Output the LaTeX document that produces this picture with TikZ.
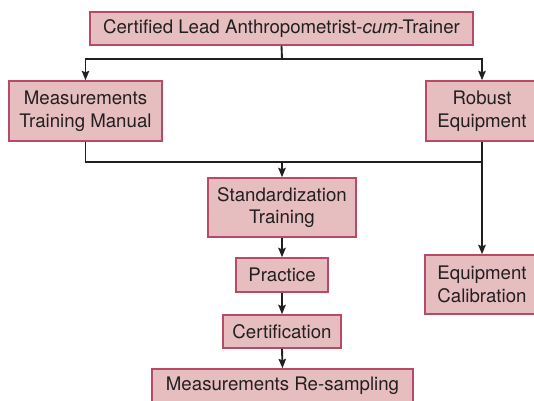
\documentclass[tikz,border=0pt]{standalone}
\usepackage{fontspec}
\setmainfont{TeX Gyre Heros}
\usetikzlibrary{arrows.meta}
\definecolor{boxfill}{HTML}{E6BEBF}
\definecolor{boxline}{HTML}{B84A68}
\definecolor{ink}{HTML}{231F20}
\tikzset{
  box/.style={draw=boxline, fill=boxfill, line width=1.1pt, inner sep=0pt,
    align=center, text=ink, font=\fontsize{14}{17}\selectfont},
  link/.style={draw=ink, line width=1.4pt},
  arrow/.style={link, -{Stealth[length=7pt,width=5.5pt,inset=1pt]}}
}
\begin{document}
\begin{tikzpicture}[x=0.75pt,y=-0.75pt]
\useasboundingbox (0,0) rectangle (534,400);
\clip (0,0) rectangle (534,400);
\node[box, minimum width=383*0.75pt, minimum height=33*0.75pt] (top) at (281.5,28.5) {Certified Lead Anthropometrist-\textit{cum}-Trainer};
\node[box, minimum width=153*0.75pt, minimum height=60*0.75pt] (mtm) at (85.5,111) {Measurements\\Training Manual};
\node[box, minimum width=112*0.75pt, minimum height=60*0.75pt] (re) at (482,111) {Robust\\Equipment};
\node[box, minimum width=148*0.75pt, minimum height=59*0.75pt] (std) at (282,207.5) {Standardization\\Training};
\node[box, minimum width=92*0.75pt, minimum height=34*0.75pt] (prac) at (282,275) {Practice};
\node[box, minimum width=118*0.75pt, minimum height=33*0.75pt] (cert) at (282,331.5) {Certification};
\node[box, minimum width=261*0.75pt, minimum height=34*0.75pt] (mrs) at (282.5,386) {Measurements Re-sampling};
\node[box, minimum width=114*0.75pt, minimum height=59*0.75pt] (ec) at (482,284.5) {Equipment\\Calibration};
\coordinate (j1) at (282,59);
\coordinate (j2) at (282,162);
\coordinate (jl) at (85.5,162);
\coordinate (jr) at (482,162);
\draw[link] (top.south) -- (j1);
\draw[arrow] (j1) -| (mtm.north);
\draw[arrow] (j1) -| (re.north);
\draw[link] (mtm.south) -- (jl) -- (jr);
\draw[arrow] (re.south) -- (ec.north);
\draw[arrow] (j2) -- (std.north);
\draw[arrow] (std.south) -- (prac.north);
\draw[arrow] (prac.south) -- (cert.north);
\draw[arrow] (cert.south) -- (mrs.north);
\end{tikzpicture}
\end{document}
